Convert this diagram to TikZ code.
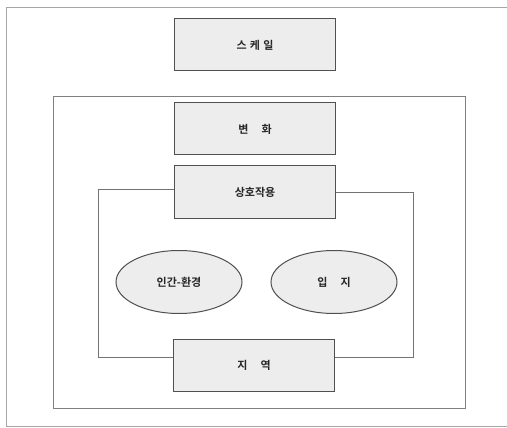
\documentclass[tikz,border=0pt]{standalone}
\usepackage{fontspec}
\newfontfamily\kr{Noto Sans CJK KR Bold}
\usetikzlibrary{shapes.geometric}
\definecolor{boxfill}{HTML}{EDEDED}
\definecolor{edge}{HTML}{505050}
\definecolor{frame}{HTML}{808080}
\begin{document}
\begin{tikzpicture}[x=1pt,y=-1pt,
  lbl/.style={font=\kr\fontsize{11}{13}\selectfont, text=black!85},
  rbox/.style={lbl, draw=edge, line width=1pt, fill=boxfill, minimum width=161pt, minimum height=52pt, inner sep=0pt},
  oval/.style={lbl, ellipse, draw=edge, line width=1pt, fill=boxfill, minimum width=126pt, minimum height=63pt, inner sep=0pt},
  frm/.style={draw=frame, line width=1pt},
  wire/.style={draw=edge!80, line width=1pt}]
\useasboundingbox (0,0) rectangle (507,428);
% outer frame
\draw[frm, draw=frame!70] (515,8) -- (6,8) -- (6,426) -- (515,426);
% middle frame
\draw[frm] (53,97) rectangle (465,408);
% nodes
\node[rbox] (scale) at (255,45) {스\hspace{0.3em}케\hspace{0.3em}일};
\node[rbox] (change) at (255,129) {변\hspace{1.2em}화};
\node[rbox] (inter) at (255,192) {상호작용};
\node[rbox] (region) at (254,365) {지\hspace{1.2em}역};
\node[oval] (he) at (179,282) {인간-환경};
\node[oval] (loc) at (334,282) {입\hspace{1.2em}지};
% inner frame connectors
\coordinate (tl) at (98,190);
\coordinate (tr) at (413,193);
\coordinate (bl) at (98,357);
\coordinate (br) at (413,357);
\draw[wire] (inter.west |- tl) -- (tl) -- (bl) -- (region.west |- bl);
\draw[wire] (inter.east |- tr) -- (tr) -- (br) -- (region.east |- br);
\end{tikzpicture}
\end{document}
